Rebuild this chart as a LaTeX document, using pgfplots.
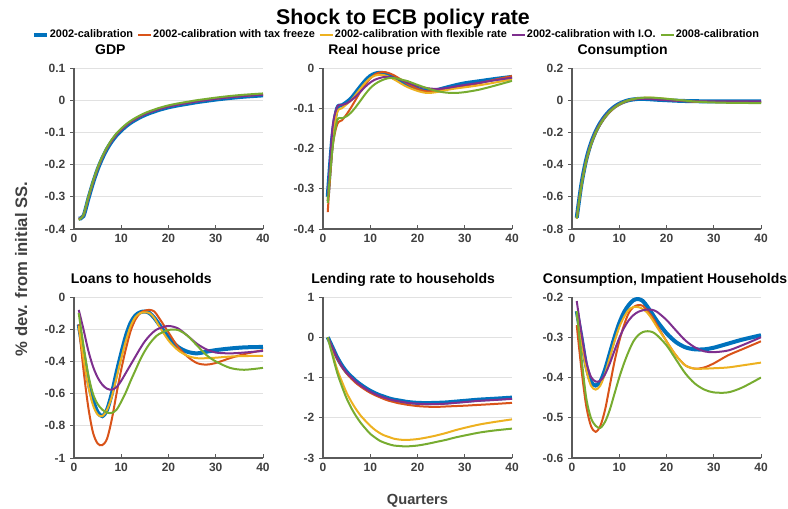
\documentclass[border=0pt]{standalone}
\usepackage{fontspec}
\setmainfont{Liberation Sans}
\usepackage{pgfplots}
\usepackage{pgfplotstable}
\pgfplotsset{compat=1.18}
\definecolor{c1}{RGB}{0,114,189}
\definecolor{c2}{RGB}{217,83,25}
\definecolor{c3}{RGB}{237,177,32}
\definecolor{c4}{RGB}{126,47,142}
\definecolor{c5}{RGB}{119,172,48}
\definecolor{axgray}{RGB}{90,90,90}
\definecolor{labgray}{RGB}{64,64,64}
\definecolor{gridgray}{RGB}{225,225,225}

\pgfplotstableread{
q b o y p g
1 -0.368 -0.370 -0.369 -0.368 -0.371
2 -0.360 -0.358 -0.358 -0.359 -0.357
3 -0.308 -0.305 -0.305 -0.306 -0.303
4 -0.258 -0.255 -0.255 -0.256 -0.253
5 -0.215 -0.212 -0.212 -0.213 -0.210
6 -0.180 -0.177 -0.177 -0.178 -0.175
7 -0.151 -0.148 -0.148 -0.149 -0.146
8 -0.128 -0.125 -0.125 -0.126 -0.122
9 -0.109 -0.106 -0.106 -0.107 -0.103
10 -0.094 -0.091 -0.091 -0.092 -0.088
11 -0.081 -0.078 -0.078 -0.079 -0.075
12 -0.070 -0.067 -0.067 -0.068 -0.064
13 -0.061 -0.058 -0.058 -0.059 -0.055
14 -0.053 -0.050 -0.050 -0.051 -0.047
15 -0.046 -0.043 -0.043 -0.044 -0.040
16 -0.040 -0.037 -0.037 -0.038 -0.034
17 -0.035 -0.032 -0.032 -0.033 -0.029
18 -0.030 -0.027 -0.027 -0.028 -0.024
20 -0.022 -0.019 -0.019 -0.020 -0.016
22 -0.016 -0.013 -0.013 -0.014 -0.010
24 -0.011 -0.008 -0.008 -0.009 -0.005
26 -0.006 -0.003 -0.003 -0.004 0.000
28 -0.002 0.001 0.001 0.000 0.004
30 0.002 0.005 0.005 0.004 0.008
33 0.007 0.010 0.010 0.009 0.013
36 0.011 0.014 0.014 0.013 0.017
40 0.015 0.018 0.018 0.017 0.021
}\tgdp

\pgfplotstableread{
q b o y p g
1 -0.320 -0.358 -0.330 -0.330 -0.335
2 -0.170 -0.200 -0.180 -0.150 -0.200
3 -0.100 -0.140 -0.110 -0.097 -0.130
4 -0.093 -0.130 -0.100 -0.092 -0.125
5 -0.085 -0.115 -0.090 -0.088 -0.120
6 -0.075 -0.097 -0.080 -0.080 -0.110
7 -0.060 -0.077 -0.065 -0.070 -0.096
8 -0.045 -0.057 -0.050 -0.058 -0.080
9 -0.031 -0.040 -0.036 -0.046 -0.064
10 -0.020 -0.026 -0.025 -0.036 -0.050
11 -0.014 -0.016 -0.019 -0.029 -0.040
12 -0.012 -0.011 -0.017 -0.025 -0.033
13 -0.013 -0.010 -0.018 -0.022 -0.028
14 -0.018 -0.013 -0.022 -0.022 -0.025
15 -0.024 -0.018 -0.028 -0.024 -0.025
16 -0.030 -0.025 -0.035 -0.028 -0.027
17 -0.036 -0.032 -0.042 -0.032 -0.030
18 -0.042 -0.040 -0.048 -0.037 -0.033
20 -0.052 -0.052 -0.057 -0.045 -0.042
22 -0.057 -0.058 -0.062 -0.050 -0.050
24 -0.055 -0.056 -0.060 -0.052 -0.057
26 -0.049 -0.052 -0.055 -0.050 -0.061
28 -0.043 -0.048 -0.051 -0.046 -0.062
30 -0.038 -0.044 -0.048 -0.042 -0.060
33 -0.033 -0.038 -0.043 -0.037 -0.054
36 -0.028 -0.030 -0.037 -0.031 -0.045
40 -0.022 -0.020 -0.028 -0.024 -0.032
}\thouse

\pgfplotstableread{
q b o y p g
1 -0.730 -0.735 -0.732 -0.730 -0.735
2 -0.520 -0.530 -0.525 -0.522 -0.528
3 -0.370 -0.382 -0.375 -0.372 -0.378
4 -0.268 -0.280 -0.272 -0.270 -0.276
5 -0.195 -0.205 -0.198 -0.196 -0.202
6 -0.140 -0.150 -0.143 -0.141 -0.147
7 -0.098 -0.107 -0.101 -0.099 -0.104
8 -0.065 -0.073 -0.068 -0.066 -0.070
9 -0.040 -0.047 -0.043 -0.041 -0.044
10 -0.022 -0.028 -0.024 -0.023 -0.025
11 -0.009 -0.013 -0.010 -0.010 -0.011
12 0.000 -0.002 0.000 -0.001 0.000
13 0.005 0.005 0.007 0.005 0.007
14 0.008 0.010 0.012 0.008 0.012
15 0.008 0.012 0.015 0.009 0.015
16 0.007 0.012 0.016 0.008 0.016
17 0.005 0.010 0.015 0.006 0.016
18 0.003 0.008 0.013 0.004 0.014
20 0.000 0.003 0.008 0.000 0.009
22 -0.003 -0.002 0.002 -0.003 0.003
24 -0.005 -0.006 -0.003 -0.005 -0.003
26 -0.006 -0.009 -0.007 -0.006 -0.008
28 -0.007 -0.010 -0.009 -0.007 -0.012
30 -0.007 -0.011 -0.011 -0.007 -0.014
33 -0.007 -0.011 -0.012 -0.007 -0.016
36 -0.007 -0.011 -0.013 -0.007 -0.017
40 -0.007 -0.011 -0.013 -0.007 -0.018
}\tcons

\pgfplotstableread{
q b o y p g
1 -0.170 -0.170 -0.180 -0.080 -0.100
2 -0.350 -0.450 -0.380 -0.200 -0.300
3 -0.520 -0.680 -0.550 -0.330 -0.480
4 -0.640 -0.840 -0.670 -0.430 -0.600
5 -0.715 -0.910 -0.730 -0.500 -0.665
6 -0.740 -0.920 -0.740 -0.545 -0.700
7 -0.700 -0.880 -0.700 -0.570 -0.718
8 -0.600 -0.760 -0.620 -0.575 -0.720
9 -0.470 -0.600 -0.500 -0.560 -0.700
10 -0.350 -0.450 -0.380 -0.520 -0.650
11 -0.240 -0.320 -0.270 -0.470 -0.590
12 -0.160 -0.210 -0.180 -0.420 -0.520
13 -0.115 -0.140 -0.125 -0.370 -0.455
14 -0.095 -0.100 -0.100 -0.320 -0.390
15 -0.090 -0.085 -0.095 -0.275 -0.335
16 -0.100 -0.080 -0.100 -0.240 -0.290
17 -0.130 -0.090 -0.130 -0.212 -0.255
18 -0.170 -0.130 -0.180 -0.195 -0.230
20 -0.250 -0.220 -0.270 -0.180 -0.205
22 -0.310 -0.310 -0.330 -0.195 -0.205
24 -0.340 -0.370 -0.365 -0.240 -0.240
26 -0.350 -0.410 -0.380 -0.290 -0.300
28 -0.340 -0.420 -0.380 -0.325 -0.360
30 -0.330 -0.410 -0.377 -0.345 -0.400
33 -0.320 -0.380 -0.370 -0.350 -0.440
36 -0.313 -0.355 -0.367 -0.345 -0.452
40 -0.310 -0.330 -0.365 -0.335 -0.440
}\tloans

\pgfplotstableread{
q b o y p g
1 0.00 0.00 0.00 0.00 0.00
2 -0.25 -0.27 -0.40 -0.26 -0.45
3 -0.50 -0.53 -0.80 -0.51 -0.88
4 -0.70 -0.74 -1.10 -0.72 -1.22
5 -0.86 -0.90 -1.38 -0.88 -1.52
6 -0.98 -1.03 -1.60 -1.00 -1.76
7 -1.09 -1.14 -1.79 -1.11 -1.96
8 -1.18 -1.23 -1.95 -1.20 -2.13
9 -1.26 -1.31 -2.08 -1.28 -2.27
10 -1.33 -1.38 -2.20 -1.35 -2.40
11 -1.39 -1.44 -2.30 -1.41 -2.49
12 -1.44 -1.49 -2.38 -1.46 -2.57
13 -1.48 -1.54 -2.44 -1.50 -2.62
14 -1.52 -1.58 -2.48 -1.54 -2.66
15 -1.55 -1.61 -2.52 -1.57 -2.69
16 -1.57 -1.64 -2.54 -1.59 -2.70
17 -1.59 -1.66 -2.55 -1.61 -2.71
18 -1.61 -1.68 -2.55 -1.63 -2.71
20 -1.63 -1.71 -2.53 -1.65 -2.69
22 -1.635 -1.725 -2.49 -1.66 -2.65
24 -1.63 -1.73 -2.44 -1.66 -2.60
26 -1.62 -1.72 -2.38 -1.65 -2.55
28 -1.60 -1.71 -2.31 -1.63 -2.49
30 -1.58 -1.70 -2.25 -1.61 -2.44
33 -1.55 -1.68 -2.17 -1.58 -2.37
36 -1.53 -1.66 -2.11 -1.56 -2.32
40 -1.50 -1.63 -2.04 -1.53 -2.27
}\tlend

\pgfplotstableread{
q b o y p g
1 -0.235 -0.270 -0.240 -0.210 -0.235
2 -0.300 -0.380 -0.310 -0.290 -0.350
3 -0.370 -0.470 -0.380 -0.360 -0.450
4 -0.410 -0.520 -0.420 -0.398 -0.500
5 -0.420 -0.535 -0.430 -0.410 -0.520
6 -0.410 -0.520 -0.420 -0.408 -0.525
7 -0.380 -0.480 -0.390 -0.392 -0.510
8 -0.340 -0.420 -0.350 -0.365 -0.480
9 -0.300 -0.360 -0.310 -0.333 -0.440
10 -0.265 -0.310 -0.275 -0.302 -0.400
11 -0.238 -0.270 -0.250 -0.277 -0.365
12 -0.220 -0.240 -0.232 -0.258 -0.335
13 -0.208 -0.225 -0.225 -0.245 -0.310
14 -0.205 -0.220 -0.225 -0.237 -0.295
15 -0.210 -0.222 -0.230 -0.233 -0.287
16 -0.225 -0.235 -0.240 -0.231 -0.285
17 -0.242 -0.250 -0.256 -0.232 -0.287
18 -0.260 -0.270 -0.275 -0.237 -0.295
20 -0.290 -0.310 -0.310 -0.257 -0.320
22 -0.312 -0.345 -0.345 -0.283 -0.355
24 -0.325 -0.370 -0.370 -0.308 -0.390
26 -0.330 -0.378 -0.378 -0.325 -0.415
28 -0.330 -0.375 -0.378 -0.335 -0.430
30 -0.326 -0.365 -0.377 -0.337 -0.437
33 -0.316 -0.345 -0.375 -0.333 -0.437
36 -0.306 -0.330 -0.370 -0.320 -0.425
40 -0.295 -0.310 -0.363 -0.300 -0.400
}\timp

\pgfplotsset{
  panel/.style={
    scale only axis, width=141.75pt, height=120.75pt,
    anchor=south west,
    xmin=0, xmax=40, xtick={0,10,20,30,40},
    axis lines*=left,
    axis line style={axgray, line width=0.8pt},
    every tick/.style={axgray, line width=0.7pt},
    major tick length=3pt,
    xtick align=inside, ytick align=outside,
    ymajorgrids, grid style={gridgray, line width=0.7pt},
    tick label style={font=\fontsize{9}{10}\selectfont\bfseries, text=labgray},
    /pgf/number format/assume math mode=true,
    /pgf/number format/fixed, /pgf/number format/precision=1,
    title style={font=\fontsize{10.5}{12}\selectfont\bfseries, anchor=base west, inner sep=0pt, yshift=4pt},
  },
  sb/.style={c1, line width=3pt, smooth},
  so/.style={c2, line width=1.5pt, smooth},
  sy/.style={c3, line width=1.5pt, smooth},
  sp/.style={c4, line width=1.5pt, smooth},
  sg/.style={c5, line width=1.5pt, smooth},
}

\begin{document}
\begin{tikzpicture}
\useasboundingbox (0,0) rectangle (591pt,381pt);

% GDP
\begin{axis}[panel, at={(55.5pt,209.25pt)}, ymin=-0.4, ymax=0.1,
  ytick={-0.4,-0.3,-0.2,-0.1,0,0.1},
  title={GDP}, title style={at={(0.111,1)}},
  legend columns=5,
  legend style={at={(1.7037,1.2068)}, anchor=center, draw=none, fill=none,
    font=\fontsize{8.2}{9}\selectfont\bfseries, inner sep=0pt,
    nodes={inner sep=0.8pt},
    /tikz/every even column/.append style={column sep=2.2pt}},
  legend image code/.code={\draw[#1] (0pt,0pt) -- (9.75pt,0pt);},
]
\addplot[sb] table[x=q,y=b]{\tgdp};
\addplot[so] table[x=q,y=o]{\tgdp};
\addplot[sy] table[x=q,y=y]{\tgdp};
\addplot[sp] table[x=q,y=p]{\tgdp};
\addplot[sg] table[x=q,y=g]{\tgdp};
\legend{2002-calibration,2002-calibration with tax freeze,2002-calibration with flexible rate,2002-calibration with I.O.,2008-calibration}
\end{axis}

% Real house price
\begin{axis}[panel, at={(242.25pt,209.25pt)}, ymin=-0.4, ymax=0,
  ytick={-0.4,-0.3,-0.2,-0.1,0},
  title={Real house price}, title style={at={(0.027,1)}}]
\addplot[sb] table[x=q,y=b]{\thouse};
\addplot[so] table[x=q,y=o]{\thouse};
\addplot[sy] table[x=q,y=y]{\thouse};
\addplot[sp] table[x=q,y=p]{\thouse};
\addplot[sg] table[x=q,y=g]{\thouse};
\end{axis}

% Consumption
\begin{axis}[panel, at={(429pt,209.25pt)}, ymin=-0.8, ymax=0.2,
  ytick={-0.8,-0.6,-0.4,-0.2,0,0.2},
  title={Consumption}, title style={at={(0.028,1)}}]
\addplot[sb] table[x=q,y=b]{\tcons};
\addplot[so] table[x=q,y=o]{\tcons};
\addplot[sy] table[x=q,y=y]{\tcons};
\addplot[sp] table[x=q,y=p]{\tcons};
\addplot[sg] table[x=q,y=g]{\tcons};
\end{axis}

% Loans
\begin{axis}[panel, at={(55.5pt,37.5pt)}, ymin=-1, ymax=0,
  ytick={-1,-0.8,-0.6,-0.4,-0.2,0},
  title={Loans to households}, title style={at={(-0.018,1)}}]
\addplot[sb] table[x=q,y=b]{\tloans};
\addplot[so] table[x=q,y=o]{\tloans};
\addplot[sy] table[x=q,y=y]{\tloans};
\addplot[sp] table[x=q,y=p]{\tloans};
\addplot[sg] table[x=q,y=g]{\tloans};
\end{axis}

% Lending rate
\begin{axis}[panel, at={(242.25pt,37.5pt)}, ymin=-3, ymax=1,
  ytick={-3,-2,-1,0,1},
  title={Lending rate to households}, title style={at={(-0.063,1)}}]
\node[anchor=south west, inner sep=0pt, text=labgray, font=\fontsize{8}{9}\selectfont\bfseries]
  at (axis description cs:0.0,1.01) {×10\textsuperscript{-3}};
\addplot[sb] table[x=q,y=b]{\tlend};
\addplot[so] table[x=q,y=o]{\tlend};
\addplot[sy] table[x=q,y=y]{\tlend};
\addplot[sp] table[x=q,y=p]{\tlend};
\addplot[sg] table[x=q,y=g]{\tlend};
\end{axis}

% Consumption impatient
\begin{axis}[panel, at={(429pt,37.5pt)}, ymin=-0.6, ymax=-0.2,
  ytick={-0.6,-0.5,-0.4,-0.3,-0.2},
  title={Consumption, Impatient Households}, title style={at={(-0.155,1)}}]
\addplot[sb] table[x=q,y=b]{\timp};
\addplot[so] table[x=q,y=o]{\timp};
\addplot[sy] table[x=q,y=y]{\timp};
\addplot[sp] table[x=q,y=p]{\timp};
\addplot[sg] table[x=q,y=g]{\timp};
\end{axis}

\node[anchor=base, inner sep=0pt, font=\fontsize{16}{18}\selectfont\bfseries] at (302.25pt,362.25pt) {Shock to ECB policy rate};
\node[anchor=base, inner sep=0pt, text=labgray, font=\fontsize{11}{12}\selectfont\bfseries] at (313.1pt,2.6pt) {Quarters};
\node[anchor=base, rotate=90, inner sep=0pt, text=labgray, font=\fontsize{12.5}{14}\selectfont\bfseries] at (20.25pt,179.25pt) {\% dev. from initial SS.};
\end{tikzpicture}
\end{document}
